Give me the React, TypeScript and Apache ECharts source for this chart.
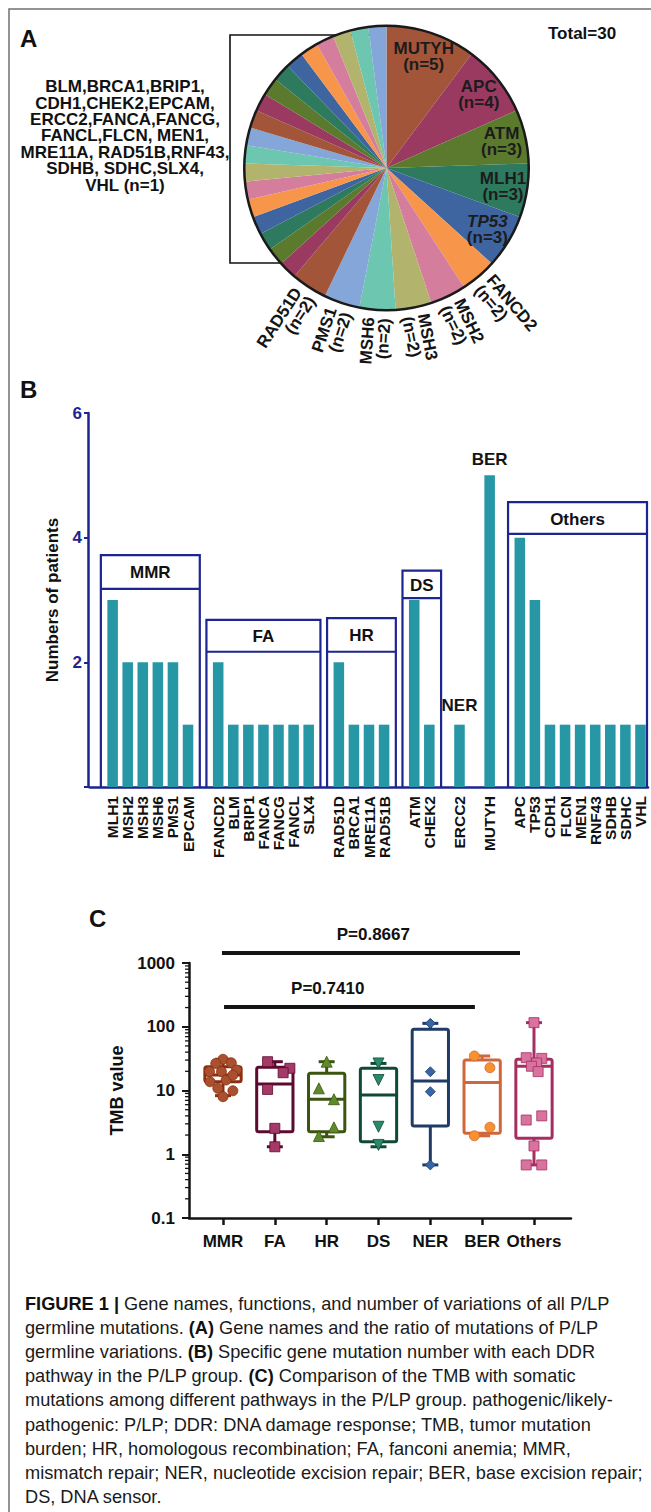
import React, { useEffect, useRef } from 'react';
import * as echarts from 'echarts';

const FONT = '"Liberation Sans", Arial, Helvetica, sans-serif';
const NAVY = '#1d2590';
const INK = '#141414';

// ---------------- Panel A ----------------
const PIE_GENES = ['MUTYH', 'APC', 'ATM', 'MLH1', 'TP53', 'FANCD2', 'MSH2', 'MSH3', 'MSH6', 'PMS1', 'RAD51D',
  'BLM', 'BRCA1', 'BRIP1', 'CDH1', 'CHEK2', 'EPCAM', 'ERCC2', 'FANCA', 'FANCG', 'FANCL', 'FLCN', 'MEN1',
  'MRE11A', 'RAD51B', 'RNF43', 'SDHB', 'SDHC', 'SLX4', 'VHL'];
const PIE_COUNTS = [5, 4, 3, 3, 3, 2, 2, 2, 2, 2, 2,
  1, 1, 1, 1, 1, 1, 1, 1, 1, 1, 1, 1,
  1, 1, 1, 1, 1, 1, 1];
const PIE_COLORS = ['#A3553A', '#9A3A60', '#5B7A2D', '#2D7A5E', '#3F65A0', '#F7954A', '#D57D9C', '#B2B46E', '#6DC6AF', '#85A6D9'];
const PIE_INNER_LABELS = ['MUTYH', 'APC', 'ATM', 'MLH1', 'TP53'];
const PIE_OUTER_LABELS = ['FANCD2', 'MSH2', 'MSH3', 'MSH6', 'PMS1', 'RAD51D'];
const PIE_ITALIC = ['TP53'];
const SINGLE_GENES_TEXT = ['BLM,BRCA1,BRIP1,', 'CDH1,CHEK2,EPCAM,', 'ERCC2,FANCA,FANCG,', 'FANCL,FLCN, MEN1,',
  'MRE11A, RAD51B,RNF43,', 'SDHB, SDHC,SLX4,', 'VHL (n=1)'];
const TOTAL_TEXT = 'Total=30';

// ---------------- Panel B ----------------
const BAR_GENES = ['', 'MLH1', 'MSH2', 'MSH3', 'MSH6', 'PMS1', 'EPCAM', '',
  'FANCD2', 'BLM', 'BRIP1', 'FANCA', 'FANCG', 'FANCL', 'SLX4', '',
  'RAD51D', 'BRCA1', 'MRE11A', 'RAD51B', '', 'ATM', 'CHEK2', '', 'ERCC2', '', 'MUTYH', '',
  'APC', 'TP53', 'CDH1', 'FLCN', 'MEN1', 'RNF43', 'SDHB', 'SDHC', 'VHL'];
const BAR_COUNTS = [null, 3, 2, 2, 2, 2, 1, null,
  2, 1, 1, 1, 1, 1, 1, null,
  2, 1, 1, 1, null, 3, 1, null, 1, null, 5, null,
  4, 3, 1, 1, 1, 1, 1, 1, 1];
const GROUP_NAMES = ['MMR', 'FA', 'HR', 'DS', 'Others'];
const GROUP_FIRST = [1, 8, 16, 21, 28];
const GROUP_LAST = [6, 14, 19, 22, 36];
const GROUP_TOP = [3.72, 2.68, 2.71, 3.47, 4.57];
const GROUP_HEADER = [3.18, 2.17, 2.17, 3.03, 4.06];
const LONE_GENES = ['ERCC2', 'MUTYH'];
const LONE_NAMES = ['NER', 'BER'];
const LONE_GAP = [11, 7];
const B_TICKS = [0, 2, 4, 6];

// ---------------- Panel C ----------------
const TMB_GROUPS = ['MMR', 'FA', 'HR', 'DS', 'NER', 'BER', 'Others'];
const BOX_MIN = [8.3, 1.31, 1.88, 1.31, 0.68, 1.95, 0.68];
const BOX_Q1 = [13.7, 2.26, 2.26, 1.57, 2.77, 2.13, 1.78];
const BOX_MEDIAN = [17.5, 12.6, 7.3, 8.5, 14.1, 13.3, 24];
const BOX_Q3 = [23.6, 23.1, 18.6, 22.3, 91, 30, 30.9];
const BOX_MAX = [30.9, 28.3, 28.3, 26.6, 113, 34.8, 116];

const TMB_MMR = [30.9, 26.6, 27.2, 19.8, 19.8, 21.0, 13.7, 14.6, 17.5, 10.8, 9.9, 8.0];
const JIT_MMR = [0, -0.14, 0.16, -0.26, -0.03, 0.26, -0.25, 0.06, 0.19, -0.1, 0.19, 0];
const TMB_FA = [28.3, 22.3, 19.0, 10.4, 2.55, 1.31];
const JIT_FA = [-0.14, 0.29, 0.16, -0.14, 0, 0];
const TMB_HR = [28.3, 10.8, 7.3, 2.64, 1.93];
const JIT_HR = [0, -0.15, 0.14, 0.14, -0.15];
const TMB_DS = [26.6, 14.6, 2.7, 1.4];
const JIT_DS = [0, 0, 0, 0];
const TMB_NER = [113, 19.7, 9.6, 0.68];
const JIT_NER = [0, 0, 0, 0];
const TMB_BER = [34.8, 22.8, 2.65, 1.95];
const JIT_BER = [-0.15, 0.15, 0.15, -0.15];
const TMB_OTHERS = [116, 32.7, 31.9, 27, 24, 19.8, 3.44, 4.0, 1.35, 0.68, 0.68];
const JIT_OTHERS = [0, -0.15, 0.15, 0.05, -0.05, 0.08, -0.15, 0.15, 0, -0.15, 0.15];

const BOX_STROKE = ['#8B2F12', '#5C0A30', '#3B5410', '#0E4A35', '#1F3B66', '#D0673A', '#A52F62'];
const POINT_FILL = ['#A9502F', '#A53A68', '#5E8A2B', '#2A8A68', '#3766A8', '#F7922F', '#D8729E'];
const POINT_SYMBOL = ['circle', 'rect', 'triangle', 'triangle', 'diamond', 'circle', 'rect'];
const POINT_ROTATE = [0, 0, 0, 180, 0, 0, 0];

const SIG_FROM = [-0.02, 0.02];
const SIG_TO = [5.73, 4.86];
const SIG_LEVEL = [1435, 204];
const SIG_TEXT_AT = [2.9, 2.02];
const SIG_TEXT = ['P=0.8667', 'P=0.7410'];

const LOG_DECADES = [0.1, 1, 10, 100];
const MINOR_STEPS = [2, 3, 4, 5, 6, 7, 8, 9];

const CAPTION_LINES = [
  '{b|FIGURE 1 |} Gene names, functions, and number of variations of all P/LP',
  'germline mutations. {b|(A)} Gene names and the ratio of mutations of P/LP',
  'germline variations. {b|(B)} Specific gene mutation number with each DDR',
  'pathway in the P/LP group. {b|(C)} Comparison of the TMB with somatic',
  'mutations among different pathways in the P/LP group. pathogenic/likely-',
  'pathogenic: P/LP; DDR: DNA damage response; TMB, tumor mutation',
  'burden; HR, homologous recombination; FA, fanconi anemia; MMR,',
  'mismatch repair; NER, nucleotide excision repair; BER, base excision repair;',
  'DS, DNA sensor.',
];

const boldText = (size: number, color = INK) => ({ fontFamily: FONT, fontSize: size, fontWeight: 'bold', color });

function buildOption(): any {
  const pieCenter = [386.5, 168];

  const mainPieData = PIE_GENES.map((g, i) => {
    const item: any = { name: g, value: PIE_COUNTS[i], itemStyle: { color: PIE_COLORS[i % PIE_COLORS.length] } };
    if (PIE_OUTER_LABELS.includes(g)) {
      item.label = {
        show: true, position: 'outside', rotate: 'radial', formatter: '{b}\n(n={c})',
        ...boldText(17), lineHeight: 16,
      };
    }
    return item;
  });

  const innerPieData = PIE_GENES.map((g, i) => {
    const item: any = { name: g, value: PIE_COUNTS[i] };
    if (PIE_INNER_LABELS.includes(g)) {
      const italic = PIE_ITALIC.includes(g);
      item.label = {
        show: true, position: 'inside',
        formatter: italic ? '{it|{b}}\n(n={c})' : '{b}\n(n={c})',
        ...boldText(17, '#1c1c1c'), lineHeight: 16,
        rich: { it: { ...boldText(17, '#1c1c1c'), fontStyle: 'italic', lineHeight: 16 } },
      };
    }
    return item;
  });

  const barData = BAR_COUNTS.map((v, i) => {
    const k = LONE_GENES.indexOf(BAR_GENES[i]);
    if (k < 0) return v;
    return {
      value: v,
      label: { show: true, position: 'top', distance: LONE_GAP[k], formatter: LONE_NAMES[k], ...boldText(17) },
    };
  });

  const groupRows = GROUP_NAMES.map((_, i) => [GROUP_FIRST[i], GROUP_LAST[i], GROUP_TOP[i], GROUP_HEADER[i]]);
  const boxRows = TMB_GROUPS.map((_, i) => [i, BOX_MIN[i], BOX_Q1[i], BOX_MEDIAN[i], BOX_Q3[i], BOX_MAX[i]]);
  const sigRows = SIG_TEXT.map((_, i) => [SIG_FROM[i], SIG_TO[i], SIG_LEVEL[i], SIG_TEXT_AT[i]]);

  const pointSets = [
    [TMB_MMR, JIT_MMR], [TMB_FA, JIT_FA], [TMB_HR, JIT_HR], [TMB_DS, JIT_DS],
    [TMB_NER, JIT_NER], [TMB_BER, JIT_BER], [TMB_OTHERS, JIT_OTHERS],
  ];

  const scatterSeries = pointSets.map(([vals, jit], g) => ({
    type: 'scatter', xAxisIndex: 1, yAxisIndex: 1, silent: true, z: 5,
    symbol: POINT_SYMBOL[g], symbolRotate: POINT_ROTATE[g], symbolSize: g === 2 || g === 3 ? 11 : 10,
    itemStyle: { color: POINT_FILL[g], borderColor: BOX_STROKE[g], borderWidth: 0.8, opacity: 1 },
    data: vals.map((v, k) => [g + jit[k], v]),
  }));

  const catIdx = TMB_GROUPS.map((_, i) => i);

  return {
    animation: false,
    backgroundColor: '#ffffff',
    textStyle: { fontFamily: FONT },
    grid: [
      { left: 90, top: 413, width: 558, height: 374 },
      { left: 189, top: 963, width: 382, height: 255 },
    ],
    xAxis: [
      {
        gridIndex: 0, type: 'category', data: BAR_GENES, boundaryGap: true,
        axisLine: { onZero: false, lineStyle: { color: NAVY, width: 2.5 } },
        axisTick: { alignWithLabel: true, interval: 0, length: 6, lineStyle: { color: NAVY, width: 2 } },
        axisLabel: { interval: 0, rotate: 90, margin: 9, ...boldText(15.5, '#111') },
        splitLine: { show: false },
      },
      {
        gridIndex: 1, type: 'value', min: -0.656, max: 6.714,
        axisLine: { onZero: false, lineStyle: { color: INK, width: 2.5 } },
        axisTick: { customValues: catIdx, length: 7, lineStyle: { color: INK, width: 2.5 } },
        axisLabel: {
          customValues: catIdx, margin: 15, ...boldText(17, '#111'),
          formatter: (v: number) => TMB_GROUPS[Math.round(v)] ?? '',
        },
        splitLine: { show: false },
      },
    ],
    yAxis: [
      {
        gridIndex: 0, type: 'value', min: 0, max: 6, interval: 2, offset: 2,
        name: 'Numbers of patients', nameLocation: 'middle', nameGap: 27,
        nameTextStyle: boldText(17, '#111'),
        axisLine: { show: true, onZero: false, lineStyle: { color: NAVY, width: 2.5 } },
        axisTick: { show: true, length: 4, lineStyle: { color: NAVY, width: 2 } },
        axisLabel: {
          margin: 6, ...boldText(17, NAVY),
          customValues: B_TICKS,
          formatter: (v: number) => (v === 0 ? '' : String(v)),
        },
        splitLine: { show: false },
      },
      {
        gridIndex: 1, type: 'log', logBase: 10, min: 0.1, max: 1000,
        name: 'TMB value', nameLocation: 'middle', nameGap: 59,
        nameTextStyle: boldText(18, '#111'),
        axisLine: { show: true, onZero: false, lineStyle: { color: INK, width: 2.5 } },
        axisTick: { show: true, length: 7, lineStyle: { color: INK, width: 2 } },
        axisLabel: {
          margin: 14, ...boldText(17, '#111'),
          formatter: (v: number) => {
            const p = Math.round(Math.log10(v));
            return p >= 0 ? String(Math.pow(10, p)) : (Math.pow(10, p)).toFixed(-p);
          },
        },
        splitLine: { show: false },
      },
    ],
    series: [
      // ---- Panel A ----
      {
        type: 'pie', center: pieCenter, radius: 142, startAngle: 90, clockwise: true,
        silent: true, avoidLabelOverlap: false, z: 2,
        label: { show: false, distanceToLabelLine: 0 },
        labelLine: { show: false, length: 8, length2: 0 },
        itemStyle: { borderWidth: 0 },
        emphasis: { disabled: true },
        data: mainPieData,
      },
      {
        type: 'pie', center: pieCenter, radius: [141, 143.5], silent: true, z: 3,
        label: { show: false }, labelLine: { show: false }, emphasis: { disabled: true },
        data: [{ name: 'outline', value: 1, itemStyle: { color: '#1a1a1a' } }],
      },
      {
        type: 'pie', center: pieCenter, radius: [100, 130], startAngle: 90, clockwise: true,
        silent: true, avoidLabelOverlap: false, z: 4,
        itemStyle: { color: 'rgba(0,0,0,0)', borderWidth: 0 },
        label: { show: false }, labelLine: { show: false }, emphasis: { disabled: true },
        data: innerPieData,
      },
      // ---- Panel B ----
      {
        type: 'bar', xAxisIndex: 0, yAxisIndex: 0, barWidth: '70%', silent: true,
        itemStyle: { color: '#2797A6' },
        data: barData,
      },
      {
        type: 'custom', xAxisIndex: 0, yAxisIndex: 0, silent: true, z: 4,
        encode: { x: [0, 1], y: [2, 3] },
        data: groupRows,
        renderItem: (params: any, api: any) => {
          const i = params.dataIndex;
          const band = api.size([1, 0])[0];
          const pTop = api.coord([api.value(0), api.value(2)]);
          const pEnd = api.coord([api.value(1), api.value(2)]);
          const pHdr = api.coord([api.value(0), api.value(3)]);
          const pBase = api.coord([api.value(0), 0]);
          const cs = params.coordSys;
          const x1 = pTop[0] - band * 0.78;
          const x2 = Math.min(pEnd[0] + band * 0.78, cs.x + cs.width - 1);
          return {
            type: 'group',
            children: [
              { type: 'polyline', shape: { points: [[x1, pBase[1]], [x1, pTop[1]], [x2, pTop[1]], [x2, pBase[1]]] },
                style: { stroke: NAVY, lineWidth: 2.2, fill: null } },
              { type: 'line', shape: { x1, y1: pHdr[1], x2, y2: pHdr[1] }, style: { stroke: NAVY, lineWidth: 2.2 } },
              { type: 'text', x: (x1 + x2) / 2, y: (pTop[1] + pHdr[1]) / 2 + 1,
                style: { text: GROUP_NAMES[i], fontFamily: FONT, fontSize: 17, fontWeight: 'bold', fill: '#111',
                  align: 'center', verticalAlign: 'middle' } },
            ],
          };
        },
      },
      // ---- Panel C ----
      {
        type: 'custom', xAxisIndex: 1, yAxisIndex: 1, silent: true, z: 3,
        data: LOG_DECADES.map((d) => [0, d]),
        renderItem: (params: any, api: any) => {
          const d = api.value(1);
          const x0 = params.coordSys.x;
          return {
            type: 'group',
            children: MINOR_STEPS.map((m) => {
              const y = api.coord([0, d * m])[1];
              return { type: 'line', shape: { x1: x0 - 4, y1: y, x2: x0, y2: y }, style: { stroke: INK, lineWidth: 1.3 } };
            }),
          };
        },
      },
      {
        type: 'custom', xAxisIndex: 1, yAxisIndex: 1, silent: true, z: 3,
        encode: { x: 0, y: [1, 2, 3, 4, 5] },
        data: boxRows,
        renderItem: (params: any, api: any) => {
          const i = params.dataIndex;
          const x = api.value(0);
          const cx = api.coord([x, 1])[0];
          const yMin = api.coord([x, api.value(1)])[1];
          const yQ1 = api.coord([x, api.value(2)])[1];
          const yMed = api.coord([x, api.value(3)])[1];
          const yQ3 = api.coord([x, api.value(4)])[1];
          const yMax = api.coord([x, api.value(5)])[1];
          const w = api.size([1, 0])[0] * 0.7;
          const cap = w * 0.22;
          const st = { stroke: BOX_STROKE[i], lineWidth: 3 };
          return {
            type: 'group',
            children: [
              { type: 'line', shape: { x1: cx, y1: yMax, x2: cx, y2: yQ3 }, style: st },
              { type: 'line', shape: { x1: cx, y1: yQ1, x2: cx, y2: yMin }, style: st },
              { type: 'line', shape: { x1: cx - cap, y1: yMax, x2: cx + cap, y2: yMax }, style: st },
              { type: 'line', shape: { x1: cx - cap, y1: yMin, x2: cx + cap, y2: yMin }, style: st },
              { type: 'rect', shape: { x: cx - w / 2, y: yQ3, width: w, height: yQ1 - yQ3, r: 2 },
                style: { ...st, fill: 'rgba(255,255,255,0)' } },
              { type: 'line', shape: { x1: cx - w / 2, y1: yMed, x2: cx + w / 2, y2: yMed }, style: st },
            ],
          };
        },
      },
      ...scatterSeries,
      {
        type: 'custom', xAxisIndex: 1, yAxisIndex: 1, silent: true, z: 6,
        encode: { x: [0, 1, 3], y: 2 },
        data: sigRows,
        renderItem: (params: any, api: any) => {
          const i = params.dataIndex;
          const a = api.coord([api.value(0), api.value(2)]);
          const b = api.coord([api.value(1), api.value(2)]);
          const t = api.coord([api.value(3), api.value(2)]);
          return {
            type: 'group',
            children: [
              { type: 'line', shape: { x1: a[0], y1: a[1], x2: b[0], y2: b[1] }, style: { stroke: INK, lineWidth: 4 } },
              { type: 'text', x: t[0], y: t[1] - 19,
                style: { text: SIG_TEXT[i], fontFamily: FONT, fontSize: 17, fontWeight: 'bold', fill: '#111',
                  align: 'center', verticalAlign: 'middle' } },
            ],
          };
        },
      },
    ],
    graphic: [
      { type: 'polyline', silent: true, shape: { points: [[9, 1512], [9, 9], [651, 9]] },
        style: { stroke: '#707070', lineWidth: 1.5, fill: null } },
      { type: 'text', x: 20, y: 38, style: { text: 'A', fontFamily: FONT, fontSize: 24, fontWeight: 'bold', fill: '#111', verticalAlign: 'middle' } },
      { type: 'text', x: 20, y: 389, style: { text: 'B', fontFamily: FONT, fontSize: 24, fontWeight: 'bold', fill: '#111', verticalAlign: 'middle' } },
      { type: 'text', x: 89, y: 918, style: { text: 'C', fontFamily: FONT, fontSize: 24, fontWeight: 'bold', fill: '#111', verticalAlign: 'middle' } },
      { type: 'text', x: 548, y: 33, style: { text: TOTAL_TEXT, fontFamily: FONT, fontSize: 17, fontWeight: 'bold', fill: '#111', verticalAlign: 'middle' } },
      { type: 'polyline', silent: true, shape: { points: [[376, 35], [230, 35], [230, 263], [293, 263]] },
        style: { stroke: '#111', lineWidth: 1.6, fill: null } },
      { type: 'text', x: 125, y: 78.5,
        style: { text: SINGLE_GENES_TEXT.join('\n'), fontFamily: FONT, fontSize: 17, fontWeight: 'bold', fill: '#111',
          align: 'center', verticalAlign: 'top', lineHeight: 16.4 } },
      { type: 'text', x: 25, y: 1291.5,
        style: {
          text: CAPTION_LINES.join('\n'), fontFamily: FONT, fontSize: 18.2, fill: '#1a1a1a',
          verticalAlign: 'top', lineHeight: 24.2,
          rich: { b: { fontFamily: FONT, fontSize: 18.2, fontWeight: 'bold', fill: '#111', lineHeight: 24.2 } },
        } },
    ],
  };
}

export default function App() {
  const ref = useRef<HTMLDivElement>(null);
  useEffect(() => {
    document.body.style.margin = '0';
    const chart = echarts.init(ref.current as HTMLDivElement, null, { renderer: 'svg' });
    chart.setOption(buildOption());
    return () => chart.dispose();
  }, []);
  return <div ref={ref} style={{ width: 651, height: 1512, background: '#fff' }} />;
}
